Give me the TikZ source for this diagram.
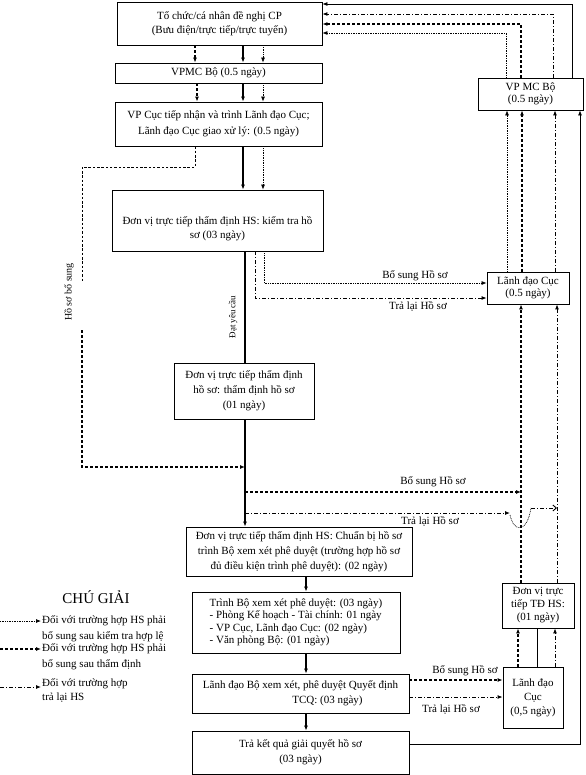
\documentclass[tikz,border=0pt]{standalone}
\usepackage{fontspec}
\setmainfont{Liberation Serif}
\usetikzlibrary{arrows.meta}
\newcommand\dgfs[1]{\fontsize{11bp}{#1bp}\selectfont}
\begin{document}
\begin{tikzpicture}[x=1bp,y=-1bp,
  box/.style={draw, line width=0.8bp, inner sep=1bp, align=center},
  lbl/.style={inner sep=0.5bp, font=\dgfs{12}},
  solidl/.style={line width=1.4bp},
  thinl/.style={line width=0.8bp},
  dashl/.style={line width=1.1bp, dash pattern=on 3bp off 2bp},
  dotl/.style={line width=0.7bp, dash pattern=on 0.8bp off 0.9bp},
  ddl/.style={line width=0.9bp, dash pattern=on 4bp off 2bp on 1bp off 2bp},
  arr/.style={-{Latex[length=5bp,width=4bp]}}]
\useasboundingbox (0,0) rectangle (586,775);

% main column boxes
\node[box, font=\dgfs{14}, minimum width=205bp, minimum height=43bp] (A) at (219.5,23.5) {Tổ chức/cá nhân đề nghị CP\\(Bưu điện/trực tiếp/trực tuyến)};
\node[box, font=\dgfs{14}, minimum width=207bp, minimum height=20bp] (B) at (218.5,73) {VPMC Bộ (0.5 ngày)};
\node[box, font=\dgfs{16}, minimum width=207bp, minimum height=44bp] (C) at (218.5,124) {VP Cục tiếp nhận và trình Lãnh đạo Cục;\\Lãnh đạo Cục giao xử lý: (0.5 ngày)};
\node[box, font=\dgfs{14}, minimum width=211bp, minimum height=61bp] (D) at (217.5,220.5) {\rule{0pt}{25bp}Đơn vị trực tiếp thẩm định HS: kiểm tra hồ\\sơ (03 ngày)};
\node[box, font=\dgfs{15}, minimum width=140bp, minimum height=56bp] (E) at (244,391) {Đơn vị trực tiếp thẩm định\\hồ sơ: thẩm định hồ sơ\\(01 ngày)};
\node[box, font=\dgfs{15}, minimum width=226bp, minimum height=49bp] (F) at (299,551.5) {Đơn vị trực tiếp thẩm định HS: Chuẩn bị hồ sơ\\trình Bộ xem xét phê duyệt (trường hợp hồ sơ\\đủ điều kiện trình phê duyệt): (02 ngày)};
\node[box, align=left, font=\dgfs{12.5}, minimum width=208bp, minimum height=61bp] (G) at (296,622.5) {Trình Bộ xem xét phê duyệt: (03 ngày)\\- Phòng Kế hoạch - Tài chính: 01 ngày\\- VP Cục, Lãnh đạo Cục: (02 ngày)\\- Văn phòng Bộ: (01 ngày)};
\node[box, font=\dgfs{15}, minimum width=217bp, minimum height=39bp] (H) at (300.5,693.5) {Lãnh đạo Bộ xem xét, phê duyệt Quyết định\\\hspace*{54bp}TCQ: (03 ngày)};
\node[box, font=\dgfs{15}, minimum width=217bp, minimum height=43bp] (I) at (300.5,752.5) {Trả kết quả giải quyết hồ sơ\\(03 ngày)};

% right column boxes
\node[box, font=\dgfs{12}, minimum width=105bp, minimum height=32bp] (J) at (530.5,94) {VP MC Bộ\\(0.5 ngày)};
\node[box, font=\dgfs{12}, minimum width=82bp, minimum height=32bp] (K) at (528,288) {Lãnh đạo Cục\\(0.5 ngày)};
\node[box, font=\dgfs{13}, minimum width=72bp, minimum height=45bp] (L) at (538,605.5) {Đơn vị trực\\tiếp TĐ HS:\\(01 ngày)};
\node[box, font=\dgfs{14}, minimum width=60bp, minimum height=61bp] (M) at (533,697.5) {Lãnh đạo\\Cục\\(0,5 ngày)};

% lanes
\coordinate (lA) at (195,0);
\coordinate (lA2) at (197,0);
\coordinate (lM) at (243,0);
\coordinate (lT) at (263,0);
\coordinate (lM2) at (245,0);
\coordinate (lC) at (306,0);

% A -> B -> C -> D
\draw[dashl,arr] (A.south -| lA) -- (B.north -| lA);
\draw[solidl,arr] (A.south -| lM) -- (B.north -| lM);
\draw[dotl,arr] (A.south -| lT) -- (B.north -| lT);
\draw[dashl,arr] (B.south -| lA2) -- (C.north -| lA2);
\draw[solidl,arr] (B.south -| lM) -- (C.north -| lM);
\draw[dotl,arr] (B.south -| lT) -- (C.north -| lT);
\draw[solidl,arr] (C.south -| lM) -- (D.north -| lM);
\draw[dotl,arr] (C.south -| lT) -- (D.north -| lT);

% Ho so bo sung loop
\coordinate (hb0) at (195,167);
\coordinate (hb1) at (82,282);
\coordinate (hb2) at (82,330);
\coordinate (j1) at (245,467);
\draw[thinl, dash pattern=on 2.5bp off 1.8bp] (C.south -| lA) -- (hb0) -| (hb1);
\draw[dashl,arr] (hb2) |- (j1);
\node[lbl, font=\fontsize{10bp}{12bp}\selectfont, rotate=90] (hbs) at (69,292) {Hồ sơ bổ sung};

% D -> E -> F -> G -> H -> I
\draw[solidl] (D.south -| lM2) -- (E.north -| lM2);
\node[lbl, font=\fontsize{9bp}{11bp}\selectfont, rotate=90] (dyc) at (233,317) {Đạt yêu cầu};
\draw[solidl,arr] (E.south -| lM2) -- (F.north -| lM2);
\draw[solidl,arr] (F.south -| lC) -- (G.north -| lC);
\draw[solidl,arr] (G.south -| lC) -- (H.north -| lC);
\draw[solidl,arr] (H.south -| lC) -- (I.north -| lC);

% D -> K
\coordinate (dq) at (264,283);
\coordinate (dr) at (255,298);
\draw[dotl,arr] (D.south -| dq) |- (K.west |- dq);
\draw[ddl,arr] (D.south -| dr) |- (K.west |- dr);
\node[lbl] (bs1) at (415,276) {Bổ sung Hồ sơ};
\node[lbl] (tl1) at (418,306) {Trả lại Hồ sơ};

% right lanes
\coordinate (r1) at (507,0);
\coordinate (r2) at (522,0);
\coordinate (r3) at (555,0);
\coordinate (r4) at (580,0);
\coordinate (r2b) at (521,0);
\coordinate (r3b) at (557,0);
\coordinate (r5) at (518,0);
\coordinate (r6) at (537,0);
\coordinate (r7) at (555,0);

\draw[dotl,arr] (K.north -| r1) -- (J.south -| r1);
\draw[dashl,arr] (K.north -| r2) -- (J.south -| r2);
\draw[ddl,arr] (K.north -| r3) -- (J.south -| r3);
\draw[dashl,arr] (L.north -| r2b) -- (K.south -| r2b);
\draw[ddl,arr] (L.north -| r3b) -- (K.south -| r3b);
\draw[dashl,arr] (M.north -| r5) -- (L.south -| r5);
\draw[line width=0.5bp] (M.north -| r6) -- (L.south -| r6);
\draw[ddl,arr] (M.north -| r7) -- (L.south -| r7);

% main line -> right lanes
\coordinate (j2) at (245,492);
\coordinate (j3) at (245,513);
\coordinate (br1) at (510,513);
\coordinate (br2) at (510,515);
\coordinate (br3) at (531,508);
\draw[dashl,arr] (j2) -- (j2 -| r2b);
\draw[ddl,arr] (j3) -- (br1);
\draw[dotl] (br2) .. controls (514,533) and (527,533) .. (br3);
\draw[ddl,-{Straight Barb[length=3.5bp,width=6bp]}] (br3) -- (br3 -| r3b);
\node[lbl] (bs2) at (433,482) {Bổ sung Hồ sơ};
\node[lbl] (tl2) at (430,521) {Trả lại Hồ sơ};

% H -> M
\coordinate (h1) at (0,680);
\coordinate (h2) at (0,697);
\draw[dashl,arr] (H.east |- h1) -- (M.west |- h1);
\draw[ddl,arr] (H.east |- h2) -- (M.west |- h2);
\node[lbl] (bs3) at (465,671) {Bổ sung Hồ sơ};
\node[lbl] (tl3) at (451,709) {Trả lại Hồ sơ};

% outer return
\coordinate (o1) at (0,744);
\draw[thinl,arr] (I.east |- o1) -| (J.south -| r4);
\coordinate (t1) at (572,4);
\coordinate (t2) at (553,14);
\coordinate (t3) at (521,24);
\coordinate (t4) at (506,33);
\draw[thinl,arr] (J.north -| t1) |- (A.east |- t1);
\draw[ddl,arr] (J.north -| t2) |- (A.east |- t2);
\draw[dashl,arr] (J.north -| t3) |- (A.east |- t3);
\draw[dotl,arr] (J.north -| t4) |- (A.east |- t4);

% legend
\node[inner sep=0pt, font=\fontsize{15bp}{17bp}\selectfont] (cg) at (96,597) {CHÚ GIẢI};
\node[anchor=west, align=left, inner sep=1bp, font=\dgfs{16}] (lg1) at (41,629) {Đối với trường hợp HS phải\\bổ sung sau kiểm tra hợp lệ};
\node[anchor=west, align=left, inner sep=1bp, font=\dgfs{16}] (lg2) at (41,657) {Đối với trường hợp HS phải\\bổ sung sau thẩm định};
\node[anchor=west, align=left, inner sep=1bp, font=\dgfs{14}] (lg3) at (41,690.5) {Đối với trường hợp\\trả lại HS};
\coordinate (g1) at (0,621);
\coordinate (g2) at (0,649);
\coordinate (g3) at (0,687);
\draw[dotl,arr] (g1) -- (g1 -| lg1.west);
\draw[dashl,arr] (g2) -- (g2 -| lg2.west);
\draw[ddl,arr] (g3) -- (g3 -| lg3.west);
\end{tikzpicture}
\end{document}
